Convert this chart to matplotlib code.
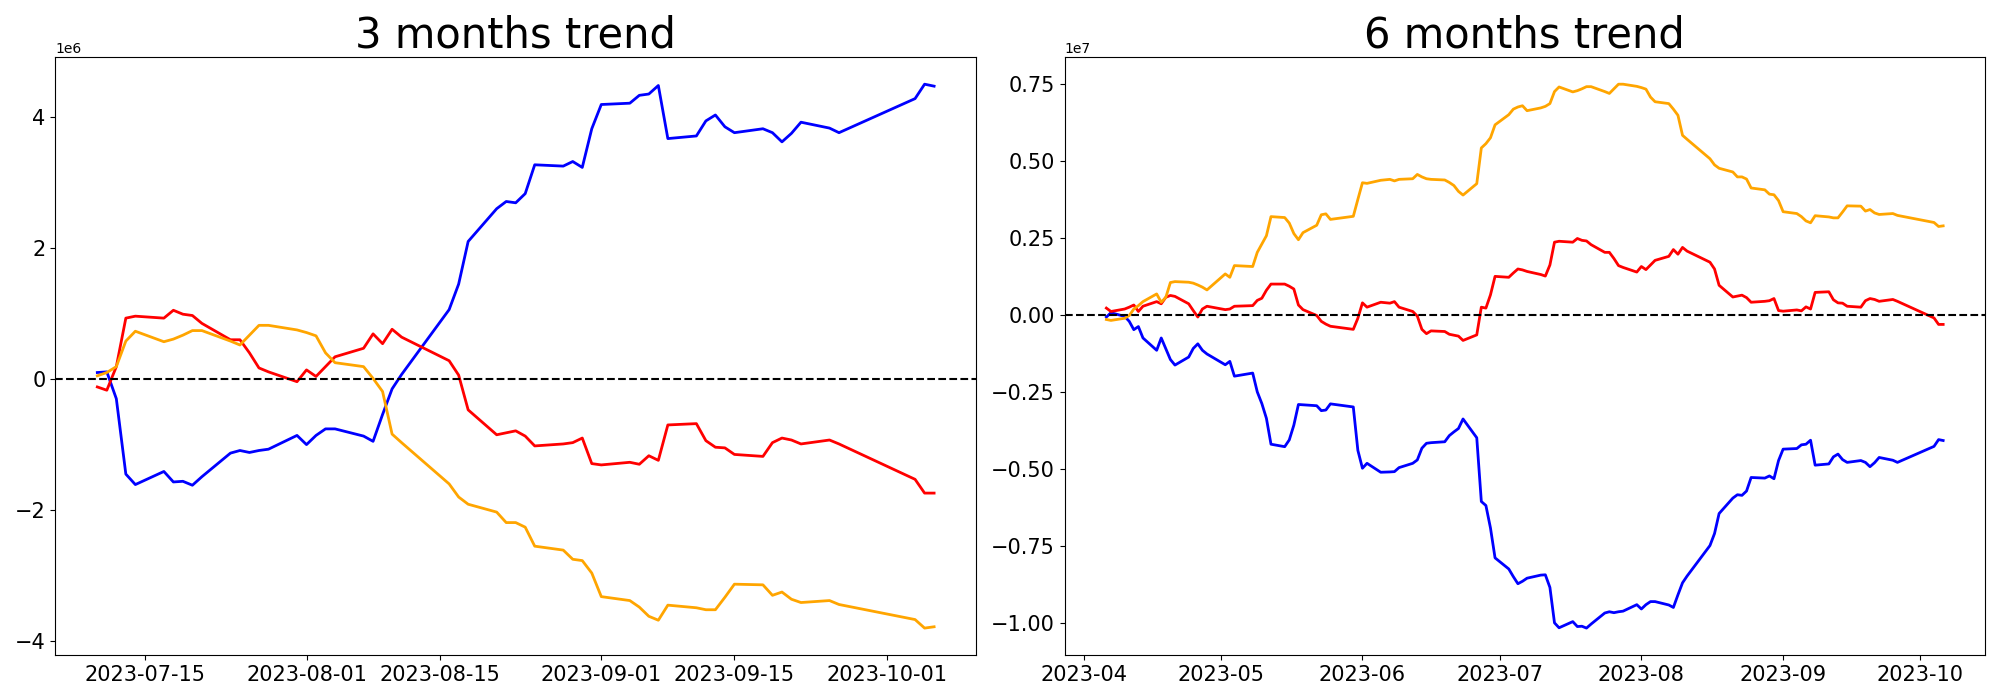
import pandas as pd
import matplotlib
matplotlib.use("Agg")
import matplotlib.pyplot as plt

# ---------------- 3 months window (values in 1e6) ----------------
dates_3m = [
    "2023-07-10", "2023-07-11", "2023-07-12", "2023-07-13", "2023-07-14",
    "2023-07-17", "2023-07-18", "2023-07-19", "2023-07-20", "2023-07-21",
    "2023-07-24", "2023-07-25", "2023-07-26", "2023-07-27", "2023-07-28",
    "2023-07-31", "2023-08-01", "2023-08-02", "2023-08-03", "2023-08-04",
    "2023-08-07", "2023-08-08", "2023-08-09", "2023-08-10", "2023-08-11",
    "2023-08-16", "2023-08-17", "2023-08-18", "2023-08-21", "2023-08-22",
    "2023-08-23", "2023-08-24", "2023-08-25", "2023-08-28", "2023-08-29",
    "2023-08-30", "2023-08-31", "2023-09-01", "2023-09-04", "2023-09-05",
    "2023-09-06", "2023-09-07", "2023-09-08", "2023-09-11", "2023-09-12",
    "2023-09-13", "2023-09-14", "2023-09-15", "2023-09-18", "2023-09-19",
    "2023-09-20", "2023-09-21", "2023-09-22", "2023-09-25", "2023-09-26",
    "2023-10-04", "2023-10-05", "2023-10-06",
]

blue_3m = [0.10, 0.11, -0.30, -1.45, -1.61, -1.41, -1.57, -1.56, -1.62, -1.49,
           -1.13, -1.09, -1.12, -1.09, -1.07, -0.86, -1.00, -0.86, -0.76, -0.76,
           -0.87, -0.95, -0.54, -0.15, 0.07, 1.06, 1.45, 2.10, 2.60, 2.71,
           2.69, 2.83, 3.27, 3.25, 3.32, 3.23, 3.82, 4.19, 4.21, 4.33,
           4.35, 4.48, 3.67, 3.71, 3.94, 4.03, 3.85, 3.76, 3.82, 3.76,
           3.62, 3.75, 3.92, 3.83, 3.76, 4.28, 4.50, 4.47]

red_3m = [-0.12, -0.17, 0.19, 0.93, 0.96, 0.93, 1.05, 0.99, 0.97, 0.85,
          0.60, 0.60, 0.40, 0.17, 0.11, -0.04, 0.14, 0.04, 0.19, 0.34,
          0.47, 0.69, 0.54, 0.76, 0.64, 0.28, 0.06, -0.47, -0.85, -0.82,
          -0.79, -0.87, -1.02, -0.99, -0.97, -0.90, -1.29, -1.31, -1.27, -1.30,
          -1.17, -1.24, -0.70, -0.68, -0.94, -1.04, -1.05, -1.15, -1.18, -0.97,
          -0.90, -0.93, -0.99, -0.93, -0.99, -1.53, -1.74, -1.74]

orange_3m = [0.05, 0.10, 0.19, 0.58, 0.73, 0.57, 0.61, 0.67, 0.74, 0.74,
             0.58, 0.52, 0.67, 0.82, 0.82, 0.75, 0.71, 0.66, 0.40, 0.25,
             0.19, 0.01, -0.19, -0.84, -0.97, -1.60, -1.80, -1.91, -2.03, -2.19,
             -2.19, -2.26, -2.55, -2.61, -2.75, -2.77, -2.96, -3.32, -3.38, -3.48,
             -3.62, -3.68, -3.45, -3.49, -3.52, -3.52, -3.33, -3.13, -3.14, -3.30,
             -3.25, -3.36, -3.41, -3.38, -3.44, -3.67, -3.80, -3.78]

# ---------------- 6 months window (values in 1e7) ----------------
dates_6m = [
    "2023-04-06", "2023-04-07", "2023-04-10", "2023-04-11", "2023-04-12",
    "2023-04-13", "2023-04-14", "2023-04-17", "2023-04-18", "2023-04-19",
    "2023-04-20", "2023-04-21", "2023-04-24", "2023-04-25", "2023-04-26",
    "2023-04-27", "2023-04-28",
    "2023-05-02", "2023-05-03", "2023-05-04", "2023-05-08", "2023-05-09",
    "2023-05-10", "2023-05-11", "2023-05-12", "2023-05-15", "2023-05-16",
    "2023-05-17", "2023-05-18", "2023-05-19", "2023-05-22", "2023-05-23",
    "2023-05-24", "2023-05-25", "2023-05-30", "2023-05-31",
    "2023-06-01", "2023-06-02", "2023-06-05", "2023-06-07", "2023-06-08",
    "2023-06-09", "2023-06-12", "2023-06-13", "2023-06-14", "2023-06-15",
    "2023-06-16", "2023-06-19", "2023-06-20", "2023-06-21", "2023-06-22",
    "2023-06-23", "2023-06-26", "2023-06-27", "2023-06-28", "2023-06-29",
    "2023-06-30",
    "2023-07-03", "2023-07-04", "2023-07-05", "2023-07-06", "2023-07-07",
] + dates_3m

blue_6m = [-0.007, 0.007, -0.005, -0.021, -0.048, -0.038, -0.075, -0.115, -0.075, -0.110,
           -0.145, -0.163, -0.137, -0.109, -0.094, -0.115, -0.127,
           -0.162, -0.151, -0.199, -0.189, -0.250, -0.288, -0.336, -0.420, -0.428,
           -0.406, -0.358, -0.291, -0.292, -0.295, -0.311, -0.309, -0.289, -0.299, -0.440,
           -0.498, -0.482, -0.511, -0.510, -0.509, -0.496, -0.482, -0.471, -0.433, -0.417,
           -0.415, -0.412, -0.392, -0.380, -0.369, -0.338, -0.399, -0.606, -0.619, -0.692,
           -0.789,
           -0.825, -0.850, -0.873, -0.865, -0.855,
           -0.845, -0.844, -0.885, -1.000, -1.016, -0.996, -1.012, -1.011, -1.017, -1.004,
           -0.968, -0.964, -0.967, -0.964, -0.962, -0.941, -0.955, -0.941, -0.931, -0.931,
           -0.942, -0.950, -0.909, -0.870, -0.848, -0.749, -0.710, -0.645, -0.595, -0.584,
           -0.586, -0.572, -0.528, -0.530, -0.523, -0.532, -0.473, -0.436, -0.434, -0.422,
           -0.420, -0.407, -0.488, -0.484, -0.461, -0.452, -0.470, -0.479, -0.473, -0.479,
           -0.493, -0.480, -0.463, -0.472, -0.479, -0.427, -0.405, -0.408]

red_6m = [0.022, 0.011, 0.019, 0.025, 0.032, 0.011, 0.028, 0.043, 0.036, 0.057,
          0.063, 0.060, 0.036, 0.014, -0.007, 0.019, 0.028,
          0.017, 0.019, 0.028, 0.030, 0.047, 0.054, 0.080, 0.100, 0.100,
          0.093, 0.084, 0.032, 0.017, -0.002, -0.021, -0.030, -0.037, -0.047, -0.011,
          0.039, 0.025, 0.041, 0.038, 0.043, 0.025, 0.011, -0.004, -0.047, -0.061,
          -0.052, -0.054, -0.063, -0.066, -0.069, -0.083, -0.065, 0.025, 0.022, 0.065,
          0.125,
          0.122, 0.136, 0.149, 0.146, 0.141,
          0.131, 0.126, 0.162, 0.236, 0.239, 0.236, 0.248, 0.242, 0.240, 0.228,
          0.203, 0.203, 0.183, 0.160, 0.154, 0.139, 0.157, 0.147, 0.162, 0.177,
          0.190, 0.212, 0.197, 0.219, 0.207, 0.171, 0.149, 0.096, 0.058, 0.061,
          0.064, 0.056, 0.041, 0.044, 0.046, 0.053, 0.014, 0.012, 0.016, 0.013,
          0.026, 0.019, 0.073, 0.075, 0.049, 0.039, 0.038, 0.028, 0.025, 0.046,
          0.053, 0.050, 0.044, 0.050, 0.044, -0.010, -0.031, -0.031]

orange_6m = [-0.015, -0.018, -0.011, -0.002, 0.019, 0.030, 0.043, 0.068, 0.041, 0.057,
             0.105, 0.108, 0.106, 0.103, 0.097, 0.090, 0.081,
             0.133, 0.122, 0.160, 0.157, 0.203, 0.230, 0.257, 0.319, 0.316,
             0.298, 0.264, 0.244, 0.267, 0.291, 0.325, 0.328, 0.310, 0.320, 0.375,
             0.429, 0.427, 0.437, 0.440, 0.435, 0.440, 0.442, 0.456, 0.448, 0.442,
             0.440, 0.438, 0.430, 0.420, 0.401, 0.389, 0.426, 0.542, 0.556, 0.575,
             0.617,
             0.650, 0.668, 0.675, 0.679, 0.663,
             0.672, 0.677, 0.686, 0.725, 0.740, 0.724, 0.728, 0.734, 0.741, 0.741,
             0.725, 0.719, 0.734, 0.749, 0.749, 0.742, 0.738, 0.733, 0.707, 0.692,
             0.686, 0.668, 0.648, 0.583, 0.570, 0.507, 0.487, 0.476, 0.464, 0.448,
             0.448, 0.441, 0.412, 0.406, 0.392, 0.390, 0.371, 0.335, 0.329, 0.319,
             0.305, 0.299, 0.322, 0.318, 0.315, 0.315, 0.334, 0.354, 0.353, 0.337,
             0.342, 0.331, 0.326, 0.329, 0.323, 0.300, 0.287, 0.289]

df_3m = pd.DataFrame({"blue": blue_3m, "red": red_3m, "orange": orange_3m},
                     index=pd.to_datetime(dates_3m)) * 1e6
df_6m = pd.DataFrame({"blue": blue_6m, "red": red_6m, "orange": orange_6m},
                     index=pd.to_datetime(dates_6m)) * 1e7

fig, axes = plt.subplots(1, 2, figsize=(20, 7))

for ax, df, title in [(axes[0], df_3m, "3 months trend"),
                      (axes[1], df_6m, "6 months trend")]:
    for col in ["blue", "red", "orange"]:
        ax.plot(df.index, df[col], color=col, linewidth=2)
    ax.axhline(0, color="black", linestyle="--", linewidth=1.5)
    ax.set_title(title, fontsize=30)
    ax.tick_params(labelsize=15)

plt.tight_layout()
plt.savefig("out.png", dpi=100)
